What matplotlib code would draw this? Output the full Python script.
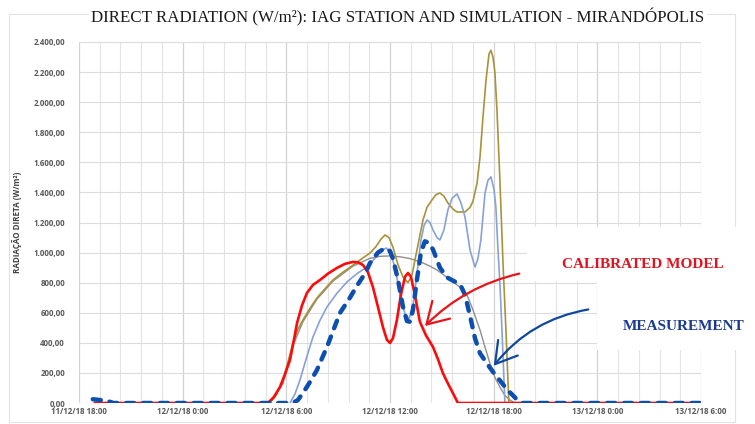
import matplotlib
matplotlib.use("Agg")
import matplotlib.pyplot as plt
import numpy as np
from matplotlib.patches import Rectangle, FancyArrowPatch
from matplotlib.ticker import FuncFormatter

# hours since 11/12/18 18:00
tick_hours = [0, 6, 12, 18, 24, 30, 36]
tick_labels = ["11/12/18 18:00", "12/12/18 0:00", "12/12/18 6:00", "12/12/18 12:00",
               "12/12/18 18:00", "13/12/18 0:00", "13/12/18 6:00"]

meas_t = [0.8, 1.6, 2.0, 12.38, 12.67, 12.96, 13.37, 13.77, 14.35, 15.10, 15.68, 16.09,
          16.55, 16.84, 17.30, 17.71, 18.00, 18.17, 18.46, 18.75, 18.98, 19.16, 19.33,
          19.56, 19.79, 20.02, 20.25, 20.49, 20.89, 21.30, 21.70, 22.05, 22.34, 22.63,
          22.92, 23.21, 23.67, 24.07, 24.36, 24.77, 25.12, 25.41, 25.64, 36.0]
meas_v = [25, 15, 0, 0, 20, 66, 140, 219, 372, 598, 700, 780,
          860, 930, 1000, 1030, 1010, 960, 820, 640, 545, 540, 620,
          820, 1000, 1075, 1065, 1020, 900, 835, 810, 790, 720, 580,
          430, 330, 253, 190, 150, 90, 50, 15, 0, 0]

calib_t = [0.9, 10.94, 11.28, 11.63, 11.92, 12.21, 12.44, 12.62, 12.91, 13.19, 13.54,
           13.95, 14.41, 14.93, 15.39, 15.86, 16.15, 16.44, 16.72, 17.01, 17.30, 17.59,
           17.82, 18.00, 18.17, 18.40, 18.63, 18.87, 19.04, 19.21, 19.44, 19.73, 20.08,
           20.49, 20.78, 21.06, 21.35, 21.64, 21.93, 36.0]
calib_v = [0, 0, 40, 106, 190, 286, 420, 532, 650, 731, 785,
           818, 860, 898, 925, 938, 935, 917, 870, 771, 640, 505,
           420, 399, 430, 552, 720, 840, 864, 840, 720, 540, 450,
           372, 290, 199, 130, 66, 0, 0]

sim1_t = [11.05, 11.40, 11.81, 12.09, 12.38, 12.67, 12.96, 13.37, 13.77, 14.24, 14.70,
          15.28, 15.86, 16.38, 16.84, 17.19, 17.48, 17.71, 17.94, 18.17, 18.46, 18.75,
          19.04, 19.27, 19.56, 19.91, 20.14, 20.43, 20.66, 20.89, 21.12, 21.35, 21.64,
          21.88, 22.34, 22.63, 22.80, 23.04, 23.21, 23.38, 23.56, 23.73, 23.84, 23.96,
          24.07, 24.19, 24.36, 24.54, 24.71, 24.88]
sim1_v = [0, 50, 153, 270, 399, 490, 552, 630, 698, 760, 818,
          870, 917, 960, 997, 1040, 1090, 1117, 1100, 1037, 920, 838,
          800, 850, 1017, 1217, 1300, 1350, 1385, 1396, 1375, 1330, 1290,
          1270, 1270, 1300, 1340, 1463, 1636, 1900, 2150, 2320, 2345, 2300,
          2200, 1950, 1483, 930, 485, 0]

sim2_t = [12.21, 12.50, 12.79, 13.14, 13.54, 13.95, 14.35, 14.93, 15.51, 16.09, 16.67,
          17.19, 17.53, 17.77, 18.00, 18.29, 18.58, 18.87, 19.10, 19.33, 19.56, 19.79,
          19.97, 20.14, 20.31, 20.49, 20.72, 20.89, 21.12, 21.35, 21.59, 21.88, 22.11,
          22.34, 22.63, 22.92, 23.09, 23.26, 23.50, 23.67, 23.84, 24.02, 24.13, 24.25,
          24.36, 24.48, 24.65]
sim2_v = [0, 60, 153, 290, 439, 550, 638, 730, 805, 860, 904,
          970, 1015, 1030, 1010, 900, 720, 590, 560, 650, 860, 1080,
          1180, 1217, 1200, 1150, 1100, 1084, 1150, 1283, 1360, 1390, 1330,
          1237, 1017, 904, 960, 1084, 1396, 1480, 1503, 1420, 1300, 1017,
          800, 485, 0]

sim3_t = [11.05, 11.81, 12.38, 12.96, 13.77, 14.70, 15.86, 16.84, 17.42, 18.00, 18.58,
          19.16, 19.73, 20.31, 20.72, 21.18, 21.59, 22.05, 22.45, 22.80, 23.04, 23.21,
          23.50, 23.78, 24.07, 24.36, 24.65, 24.94, 25.23]
sim3_v = [0, 130, 380, 540, 690, 810, 910, 962, 975, 978, 972,
          960, 940, 910, 884, 845, 810, 770, 720, 620, 540, 485,
          370, 266, 170, 106, 50, 20, 0]

W, H = 755, 424
fig = plt.figure(figsize=(W / 100, H / 100), dpi=100)


def fx(px):
    return px / W


def fy(py):
    return 1 - py / H


ax = fig.add_axes([fx(79), fy(403), fx(701) - fx(79), fy(42) - fy(403)])

line_kw = dict(solid_joinstyle="round", solid_capstyle="round")
ax.plot(sim3_t, sim3_v, color="#8f8f8f", lw=1.0, zorder=2, **line_kw)
ax.plot(sim1_t, sim1_v, color="#a8923a", lw=1.2, zorder=3, **line_kw)
ax.plot(sim2_t, sim2_v, color="#86a2d6", lw=1.2, zorder=4, **line_kw)
ax.plot(calib_t, calib_v, color="#ff0a0a", lw=1.9, zorder=5, **line_kw)
ax.plot(meas_t, meas_v, color="#0d4fae", lw=3.2, dashes=(1.8, 2.0),
        dash_capstyle="round", dash_joinstyle="round", zorder=6)

ax.set_xlim(0, 36)
ax.set_ylim(0, 2400)
ax.set_xticks(tick_hours)
ax.set_xticklabels(tick_labels)
ax.set_xticks(np.arange(0, 36.01, 1.2), minor=True)
ax.set_yticks(np.arange(0, 2401, 200))
ax.yaxis.set_major_formatter(FuncFormatter(
    lambda v, p: f"{v:,.2f}".replace(",", "X").replace(".", ",").replace("X", ".")))

for s in ax.spines.values():
    s.set_visible(False)
ax.grid(True, which="major", axis="y", color="#dcdcdc", lw=0.8)
ax.grid(True, which="minor", axis="x", color="#e4e4e4", lw=0.8)
ax.grid(True, which="major", axis="x", color="#d2d2d2", lw=0.9)
ax.set_axisbelow(True)
ax.tick_params(which="both", length=0)
ax.tick_params(axis="y", pad=10)
ax.tick_params(axis="x", pad=3)
for lab in ax.get_xticklabels() + ax.get_yticklabels():
    lab.set_fontfamily("Open Sans")
    lab.set_fontweight("bold")
    lab.set_fontsize(5.7)
    lab.set_color("#595959")

ax.set_ylabel("RADIAÇÃO DIRETA (W/m²)", fontfamily="Open Sans", fontweight="bold",
              fontsize=5.8, color="#404040")
ax.yaxis.set_label_coords(-0.0916, 0.5)

# chart frame
fig.patches.append(Rectangle((fx(9), fy(422)), fx(735) - fx(9), fy(14) - fy(422),
                             transform=fig.transFigure, fill=False, ec="#e2e2e2",
                             lw=0.8, zorder=-1))

fig.text(fx(398), fy(17), "DIRECT RADIATION (W/m²): IAG STATION AND SIMULATION - MIRANDÓPOLIS",
         ha="center", va="center", fontfamily="Liberation Serif", fontsize=12.2, color="#1a1a1a",
         bbox=dict(facecolor="white", edgecolor="none", pad=2))

# white boxes behind the annotations
fig.patches.append(Rectangle((fx(527), fy(281)), fx(760) - fx(527), fy(227) - fy(281),
                             transform=fig.transFigure, fc="white", ec="none", zorder=1))
fig.patches.append(Rectangle((fx(597), fy(350)), fx(760) - fx(597), fy(281) - fy(350),
                             transform=fig.transFigure, fc="white", ec="none", zorder=1))

arrow_style = "->,head_length=1.0,head_width=0.6"
fig.patches.append(FancyArrowPatch((fx(522), fy(273)), (fx(423), fy(328)),
                                   transform=fig.transFigure, connectionstyle="arc3,rad=0.15",
                                   arrowstyle=arrow_style, mutation_scale=15,
                                   color="#e8141b", lw=1.6, zorder=3))
fig.patches.append(FancyArrowPatch((fx(591), fy(309)), (fx(492), fy(368)),
                                   transform=fig.transFigure, connectionstyle="arc3,rad=0.2",
                                   arrowstyle=arrow_style, mutation_scale=15,
                                   color="#1048a0", lw=1.6, zorder=3))

fig.text(fx(562), fy(265), "CALIBRATED MODEL", ha="left", va="center",
         fontfamily="Liberation Serif", fontweight="bold", fontsize=11, color="#e0141e", zorder=4)
fig.text(fx(623), fy(326), "MEASUREMENT", ha="left", va="center",
         fontfamily="Liberation Serif", fontweight="bold", fontsize=11, color="#1a3a8f", zorder=4)

fig.savefig("out.png", dpi=100)
